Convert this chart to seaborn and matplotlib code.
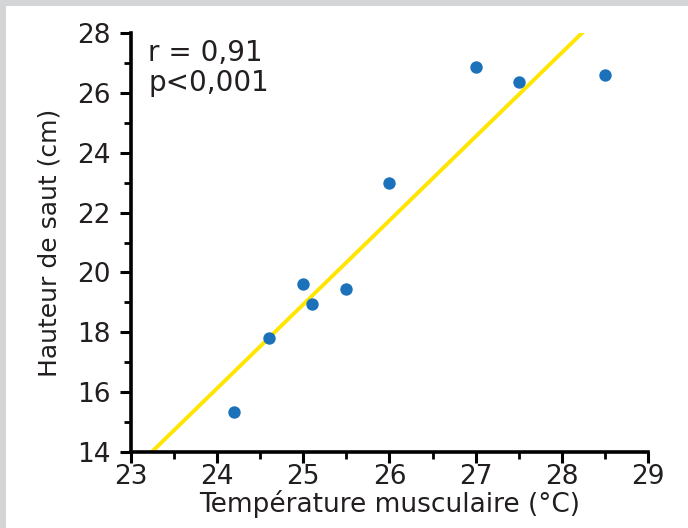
import numpy as np
import pandas as pd
import matplotlib
matplotlib.use('Agg')
import matplotlib.pyplot as plt
from matplotlib.ticker import MultipleLocator
import seaborn as sns

# data
temperature = [24.2, 24.6, 25.0, 25.1, 25.5, 26.0, 27.0, 27.5, 28.5]
hauteur = [15.35, 17.8, 19.6, 18.95, 19.45, 23.0, 26.85, 26.35, 26.6]
x_ticks = [23, 24, 25, 26, 27, 28, 29]
y_ticks = [14, 16, 18, 20, 22, 24, 26, 28]

df = pd.DataFrame({'temp': temperature, 'haut': hauteur})

sns.set_style('ticks')
plt.rcParams['font.family'] = ['DejaVu Sans']

fig = plt.figure(figsize=(6.88, 5.28), dpi=100)
fig.patch.set_facecolor('#d4d5d7')
# white panel, grey strip only top and left
fig.add_artist(plt.Rectangle((6 / 688, 0), 1, 1 - 6 / 528, transform=fig.transFigure,
                             facecolor='white', edgecolor='none', zorder=-10))

ax = fig.add_axes([131 / 688, (528 - 452) / 528, (648 - 131) / 688, (452 - 33) / 528])
ax.set_facecolor('none')
ax.set_zorder(5)

# limits first so the fitted line runs across the whole axes
ax.set_xlim(23, 29)
ax.set_ylim(14, 28)

sns.regplot(data=df, x='temp', y='haut', ax=ax, ci=None, truncate=False,
            scatter_kws={'s': 80, 'color': '#1b72ba', 'alpha': 1, 'zorder': 3, 'linewidths': 0},
            line_kws={'color': '#ffe500', 'lw': 2.8, 'zorder': 2})

ax.set_xlim(23, 29)
ax.set_ylim(14, 28)
ax.set_xticks(x_ticks)
ax.set_yticks(y_ticks)
ax.xaxis.set_minor_locator(MultipleLocator(0.5))
ax.yaxis.set_minor_locator(MultipleLocator(1))

for side in ['top', 'right']:
    ax.spines[side].set_visible(False)
for side in ['left', 'bottom']:
    ax.spines[side].set_linewidth(2.6)
    ax.spines[side].set_color('black')
    ax.spines[side].set_capstyle('projecting')

ax.tick_params(which='major', length=8, width=2.2, color='black', labelsize=19,
               labelcolor='#231f20')
ax.tick_params(which='minor', length=5, width=2.0, color='black')
ax.tick_params(axis='x', which='major', pad=1)
ax.tick_params(axis='y', which='major', pad=7)

ax.set_xlabel('Température musculaire (°C)', fontsize=19, color='#231f20', labelpad=0)
ax.set_ylabel('Hauteur de saut (cm)', fontsize=18, color='#231f20', labelpad=11)

ax.text(0.033, 0.985, 'r = 0,91\np<0,001', transform=ax.transAxes, ha='left', va='top',
        fontsize=20, color='#231f20', linespacing=1.1)

plt.savefig('out.png', dpi=100, facecolor=fig.get_facecolor())
